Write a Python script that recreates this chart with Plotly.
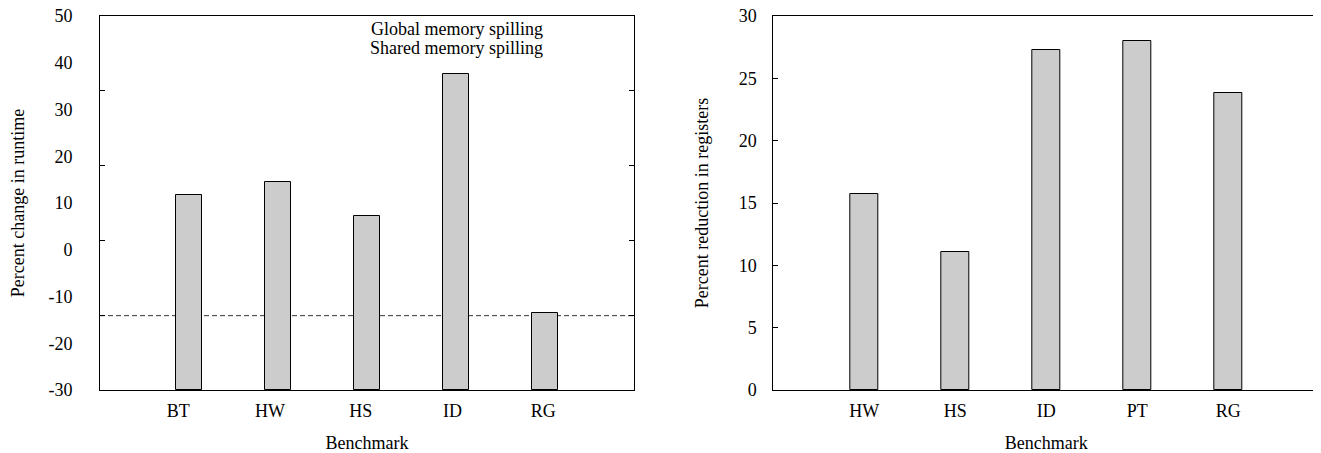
import plotly.graph_objects as go

# ---------------- data ----------------
left_categories = ["BT", "HW", "HS", "ID", "RG"]
left_values = [11.8, 14.5, 7.3, 37.5, -13.5]          # percent change in runtime
left_reference = -14.1                                  # dashed reference line
left_ytick_labels = [50, 40, 30, 20, 10, 0, -10, -20, -30]
left_tick_marks = [-14, 2, 18, 34]                      # tick-mark positions (unlabelled)

right_categories = ["HW", "HS", "ID", "PT", "RG"]
right_values = [15.75, 11.1, 27.3, 28.0, 23.8]         # percent reduction in registers
right_ytick_labels = [0, 5, 10, 15, 20, 25, 30]

legend_labels = ["Global memory spilling", "Shared memory spilling"]

# ---------------- styling / layout constants ----------------
# the page body has an 8px default margin; the figure is sized/offset for that
OFF = 8
W, H = 1321 - OFF, 453 - OFF
FONT = "Liberation Serif"
FS = 18
BAR_FILL = "#cccccc"
left_base = -30
bar_pos = [1, 2, 3, 4, 5]
left_label_pos = [0.88, 1.91, 2.93, 3.96, 4.98]

PLOT_TOP, PLOT_BOTTOM = 16, 390          # window pixels
M_T = PLOT_TOP - OFF
M_B = H - (PLOT_BOTTOM - OFF)
PLOT_H = H - M_T - M_B


def px_x(x):
    return (x - OFF) / W


def px_y(y):
    return (H - M_B - (y - OFF)) / PLOT_H


fig = go.Figure()

fig.add_trace(go.Bar(
    x=bar_pos, y=[v - left_base for v in left_values], base=left_base,
    width=0.3, marker=dict(color=BAR_FILL, line=dict(color="black", width=1)),
    xaxis="x", yaxis="y", showlegend=False,
    customdata=left_values, hovertemplate="%{customdata}<extra></extra>"))

fig.add_trace(go.Bar(
    x=bar_pos, y=right_values,
    width=0.3, marker=dict(color=BAR_FILL, line=dict(color="black", width=1)),
    xaxis="x2", yaxis="y2", showlegend=False))

axis_common = dict(showline=True, linecolor="black", linewidth=1, mirror=True,
                   showgrid=False, zeroline=False, ticklabeloverflow="allow",
                   tickfont=dict(family=FONT, size=FS, color="black"))

fig.update_layout(
    width=W, height=H,
    margin=dict(l=0, r=0, t=M_T, b=M_B, autoexpand=False),
    paper_bgcolor="white", plot_bgcolor="white",
    font=dict(family=FONT, size=FS, color="black"),
    bargap=0,
    xaxis=dict(domain=[px_x(100), px_x(634)], range=[0, 6], anchor="y",
               tickmode="array", tickvals=left_label_pos, ticktext=left_categories,
               ticks="", ticklabelstandoff=4,
               title=dict(text="Benchmark", standoff=17, font=dict(family=FONT, size=FS)),
               **axis_common),
    yaxis=dict(domain=[0, 1], range=[-30, 50], anchor="x",
               tickmode="array", tickvals=left_ytick_labels,
               ticktext=[str(v) for v in left_ytick_labels],
               ticks="", ticklabelstandoff=23,
               title=dict(text="Percent change in runtime", standoff=36,
                          font=dict(family=FONT, size=FS)),
               **axis_common),
    yaxis3=dict(domain=[0, 1], range=[-30, 50], anchor="x", overlaying="y",
                tickmode="array", tickvals=left_tick_marks,
                showticklabels=False, ticks="inside", ticklen=5,
                tickcolor="black", tickwidth=1, mirror="ticks",
                showline=False, showgrid=False, zeroline=False),
    xaxis2=dict(domain=[px_x(773.3), px_x(1319.3)], range=[0, 6], anchor="y2",
                tickmode="array", tickvals=bar_pos, ticktext=right_categories,
                ticks="", ticklabelstandoff=4,
                title=dict(text="Benchmark", standoff=17, font=dict(family=FONT, size=FS)),
                **axis_common),
    yaxis2=dict(domain=[0, 1], range=[0, 30], anchor="x2",
                tickmode="array", tickvals=right_ytick_labels,
                ticktext=[str(v) for v in right_ytick_labels],
                ticks="inside", ticklen=5, tickcolor="black", tickwidth=1,
                ticklabelstandoff=12,
                title=dict(text="Percent reduction in registers", standoff=25,
                           font=dict(family=FONT, size=FS)),
                **axis_common),
)

# invisible trace to activate the tick-mark overlay axis
fig.add_trace(go.Scatter(x=[None], y=[None], xaxis="x", yaxis="y3",
                         showlegend=False, hoverinfo="skip"))

# dashed reference line in the left panel (below bars)
fig.add_shape(type="line", xref="x domain", yref="y", x0=0, x1=1,
              y0=left_reference, y1=left_reference,
              line=dict(color="#333333", width=1, dash="5px,3px"), layer="below")

# key text (right-justified, no sample symbols)
for i, lab in enumerate(legend_labels):
    fig.add_annotation(text=lab, xref="paper", yref="paper",
                       x=px_x(545), y=px_y(29 + 19 * i),
                       xanchor="right", yanchor="middle", showarrow=False,
                       font=dict(family=FONT, size=FS, color="black"))

fig.write_html("out.html")
